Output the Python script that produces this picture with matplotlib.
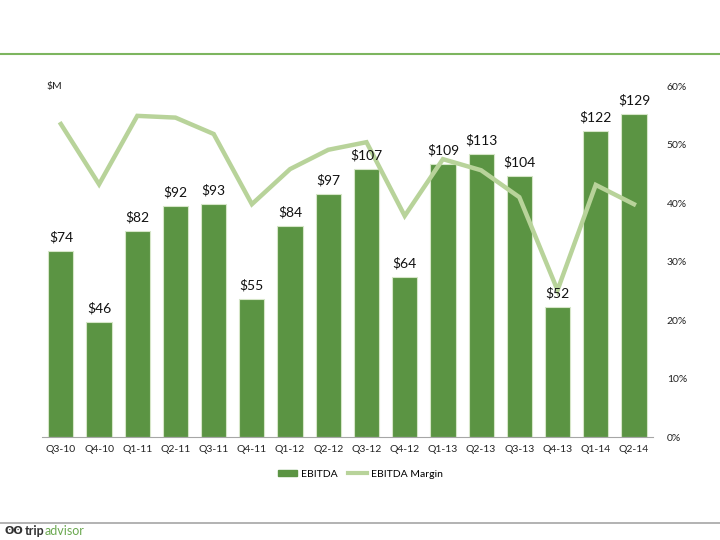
import matplotlib
matplotlib.use("Agg")
import matplotlib.pyplot as plt
from matplotlib.ticker import FuncFormatter
from matplotlib.lines import Line2D
from matplotlib.patches import Patch

quarters = ["Q3-10", "Q4-10", "Q1-11", "Q2-11", "Q3-11", "Q4-11", "Q1-12", "Q2-12",
            "Q3-12", "Q4-12", "Q1-13", "Q2-13", "Q3-13", "Q4-13", "Q1-14", "Q2-14"]
ebitda = [74, 46, 82, 92, 93, 55, 84, 97, 107, 64, 109, 113, 104, 52, 122, 129]
margin = [53.5, 43.2, 54.9, 54.6, 51.8, 39.8, 45.8, 49.1, 50.4, 37.8, 47.5, 45.6, 41.0, 25.1, 43.1, 39.8]

bar_color = "#5B9443"
line_color = "#B8D39A"
font = ["Lato", "DejaVu Sans"]
plt.rcParams["font.family"] = font

fig = plt.figure(figsize=(7.2, 5.4), dpi=100)
ax = fig.add_axes([0.058, 0.1907, 0.849, 0.65])
x = list(range(len(quarters)))
ax.bar(x, ebitda, width=0.66, color=bar_color, edgecolor="#D6E6C8", linewidth=0.8, zorder=2)
ax.set_ylim(0, 140)
ax.set_xlim(-0.5, len(quarters) - 0.5)
ax.set_yticks([])
for s in ["top", "right", "left"]:
    ax.spines[s].set_visible(False)
ax.spines["bottom"].set_color("#A6A6A6")
ax.set_xticks(x)
ax.set_xticklabels(quarters, fontsize=7.5, color="#222222")
ax.tick_params(axis="x", length=0, pad=6)

ax2 = ax.twinx()
ax2.plot(x, margin, color=line_color, linewidth=3.2, solid_joinstyle="miter", zorder=3)
ax2.set_ylim(0, 60)
ax2.set_yticks(range(0, 61, 10))
ax2.yaxis.set_major_formatter(FuncFormatter(lambda v, p: f"{int(v)}%"))
ax2.tick_params(axis="y", length=0, pad=10, labelsize=7.5, labelcolor="#222222")
for s in ["top", "right", "left", "bottom"]:
    ax2.spines[s].set_visible(False)

for xi, v in zip(x, ebitda):
    ax2.text(xi, v + 3, f"${v}", ha="center", va="bottom", fontsize=10, color="#111111",
             transform=ax.transData, zorder=5)

fig.text(0.065, 0.84, "$M", fontsize=7.5, color="#222222", va="center", ha="left")

handles = [Patch(facecolor=bar_color, edgecolor=bar_color),
           Line2D([0], [0], color=line_color, linewidth=3)]
fig.legend(handles, ["EBITDA", "EBITDA Margin"], loc="center", bbox_to_anchor=(0.5, 0.122),
           ncol=2, frameon=False, fontsize=7.5, handlelength=1.9, handleheight=0.6,
           columnspacing=1.0, handletextpad=0.3)

# decorative lines
fig.add_artist(Line2D([0, 1], [1 - 54 / 540, 1 - 54 / 540], color="#7DB55F", linewidth=1.5,
                      transform=fig.transFigure))
fig.add_artist(Line2D([0, 1], [1 - 523 / 540, 1 - 523 / 540], color="#A6A6A6", linewidth=1.2,
                      transform=fig.transFigure))
t0 = fig.text(0.006, 1 - 531 / 540, "ʘʘ", fontsize=8, color="#333333", va="center", ha="left",
              family=["DejaVu Sans"], fontweight="bold")
t1 = fig.text(0.033, 1 - 531 / 540, "trip", fontsize=9, color="#333333", va="center", ha="left",
              fontweight="bold")
t2 = fig.text(0, 1 - 531 / 540, "advisor", fontsize=9, color="#6AA84F", va="center", ha="left")
fig.canvas.draw()
b0 = t0.get_window_extent()
t1.set_position(((b0.x1 + 2) / fig.bbox.width, 1 - 531 / 540))
fig.canvas.draw()
bb = t1.get_window_extent()
t2.set_position((bb.x1 / fig.bbox.width, 1 - 531 / 540))

fig.savefig("out.png", dpi=100)
